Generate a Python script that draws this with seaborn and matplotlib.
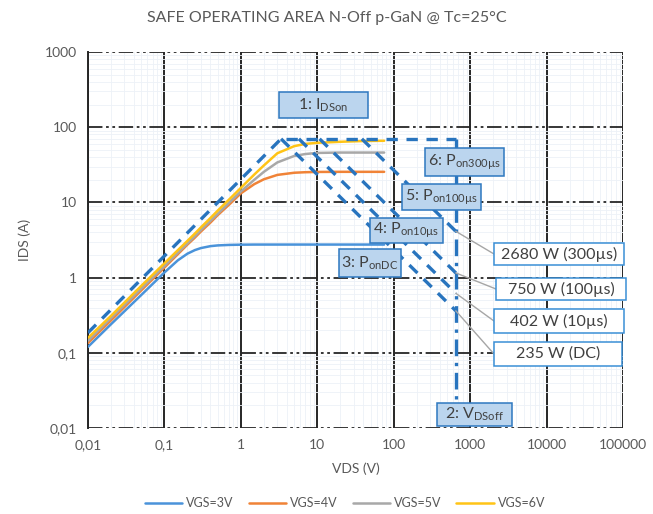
import matplotlib
matplotlib.use("Agg")
import matplotlib.pyplot as plt
from matplotlib.patches import Rectangle
import seaborn as sns
import pandas as pd

# ---------------- data ----------------
vds = [0.01, 0.02, 0.05, 0.1, 0.15, 0.2, 0.25, 0.3, 0.4, 0.5, 0.7, 1, 1.5, 2, 3, 5, 7, 10, 20, 40, 75]
ids_3v = [0.12, 0.24, 0.59, 1.17, 1.7, 2.08, 2.32, 2.47, 2.62, 2.68, 2.72, 2.74, 2.75, 2.75, 2.75, 2.75, 2.75, 2.75, 2.75, 2.75, 2.75]
ids_4v = [0.135, 0.27, 0.68, 1.36, 2.05, 2.75, 3.4, 4.1, 5.4, 6.8, 9.3, 13.2, 17.5, 20.3, 23.2, 24.8, 25.2, 25.4, 25.5, 25.5, 25.5]
ids_5v = [0.145, 0.29, 0.72, 1.43, 2.15, 2.85, 3.55, 4.3, 5.7, 7.1, 9.9, 14, 20, 25.5, 34, 41.5, 44, 45.5, 46, 46, 46]
ids_6v = [0.158, 0.31, 0.78, 1.55, 2.32, 3.08, 3.85, 4.65, 6.2, 7.8, 10.9, 15.6, 23.5, 31, 45, 56, 60, 62, 64, 65.5, 66]
series = ["VGS=3V", "VGS=4V", "VGS=5V", "VGS=6V"]
colors = ["#4A93DA", "#F08337", "#A8A8A8", "#FFC416"]

# safe operating area envelope
i_max = 70
v_off = 650
i_start = 0.185
i_end = 0.024
powers = [235, 402, 750, 2680]
power_labels = ["235 W (DC)", "402 W (10µs)", "750 W (100µs)", "2680 W (300µs)"]

xticks = [0.01, 0.1, 1, 10, 100, 1000, 10000, 100000]
xticklabels = ["0,01", "0,1", "1", "10", "100", "1000", "10000", "100000"]
yticks = [0.01, 0.1, 1, 10, 100, 1000]
yticklabels = ["0,01", "0,1", "1", "10", "100", "1000"]

# ---------------- style ----------------
sns.set_style("white")
plt.rcParams["font.family"] = ["Lato", "DejaVu Sans"]
plt.rcParams["mathtext.fontset"] = "custom"
plt.rcParams["mathtext.rm"] = "Lato"
plt.rcParams["mathtext.it"] = "Lato"
plt.rcParams["mathtext.bf"] = "Lato"

txt = "#595959"
dark = "#262626"
soa_c = "#2874BE"

W, H = 653, 514
fig = plt.figure(figsize=(W / 100, H / 100), dpi=100)
ax = fig.add_axes([88 / W, 1 - 428 / H, 535 / W, 376 / H])

rows = []
for name, vals in zip(series, [ids_3v, ids_4v, ids_5v, ids_6v]):
    for v, i in zip(vds, vals):
        rows.append({"VDS": v, "IDS": i, "VGS": name})
df = pd.DataFrame(rows)

ax.set_xscale("log")
ax.set_yscale("log")
ax.set_xlim(0.01, 100000)
ax.set_ylim(0.01, 1000)

# grid
ax.set_xticks(xticks)
ax.set_yticks(yticks)
ax.set_xticks([m * 10.0 ** e for e in range(-2, 5) for m in range(2, 10)], minor=True)
ax.set_yticks([m * 10.0 ** e for e in range(-2, 3) for m in range(2, 10)], minor=True)
ax.grid(which="minor", color="#EDF1F7", lw=0.6)
ax.xaxis.grid(True, which="major", color=dark, lw=1.4, ls="-")
ax.yaxis.grid(True, which="major", color=dark, lw=1.3, ls=(0, (8, 2, 1.5, 2, 1.5, 2)))
ax.set_axisbelow(True)
for s in ["top", "bottom", "right"]:
    ax.spines[s].set_visible(False)
ax.spines["left"].set_color(dark)
ax.spines["left"].set_linewidth(1.4)

sns.lineplot(data=df, x="VDS", y="IDS", hue="VGS", palette=colors, ax=ax,
             sort=False, estimator=None, lw=1.8, zorder=3)

# SOA envelope
dash = (0, (3.4, 2.6))
v_knee = powers[0] / i_max
ax.plot([0.01, v_knee], [i_start, i_max], color=soa_c, lw=2.4, ls=dash, zorder=4)
ax.plot([v_knee * 1.15, v_off], [i_max, i_max], color=soa_c, lw=2.4, ls=dash, zorder=4)
ax.plot([v_off, v_off], [i_max, i_end], color=soa_c, lw=2.4, ls=(0, (5, 2, 1, 2)), zorder=4)
for p in powers:
    ax.plot([p / i_max, v_off], [i_max, p / v_off], color=soa_c, lw=2.4, ls=dash, zorder=4)

ax.set_xticklabels(xticklabels)
ax.set_yticklabels(yticklabels)
ax.tick_params(axis="both", which="both", length=0, labelsize=10, labelcolor=txt, pad=8)
ax.set_xlabel("VDS (V)", fontsize=10, color=txt, labelpad=8)
ax.set_ylabel("IDS (A)", fontsize=10, color=txt, labelpad=10)

fig.text(327 / W, 1 - 18 / H, "SAFE OPERATING AREA N-Off p-GaN @ Tc=25°C",
         ha="center", va="center", fontsize=11.5, color=txt)

# annotation boxes (pixel extents)
def box(x0, x1, y0, y1, text, fc, ec):
    r = Rectangle((x0 / W, 1 - y1 / H), (x1 - x0) / W, (y1 - y0) / H,
                  transform=fig.transFigure, fc=fc, ec=ec, lw=1.1, zorder=10)
    fig.add_artist(r)
    fig.text((x0 + x1) / 2 / W, 1 - (y0 + y1) / 2 / H, text, ha="center", va="center",
             fontsize=11.5, color="#404040", zorder=11)

blue_fc, blue_ec = "#BBD5EE", "#2E78C0"
box(279, 368, 92, 118, r"1: I$_{\mathrm{DSon}}$", blue_fc, blue_ec)
box(425, 504, 148, 176, r"6: P$_{\mathrm{on300µs}}$", blue_fc, blue_ec)
box(402, 481, 184, 210, r"5: P$_{\mathrm{on100µs}}$", blue_fc, blue_ec)
box(370, 443, 218, 243, r"4: P$_{\mathrm{on10µs}}$", blue_fc, blue_ec)
box(339, 401, 249, 277, r"3: P$_{\mathrm{onDC}}$", blue_fc, blue_ec)
box(437, 512, 403, 426, r"2: V$_{\mathrm{DSoff}}$", blue_fc, blue_ec)

power_boxes = [(494, 622, 342, 366), (494, 624, 309, 333), (496, 626, 278, 300), (494, 624, 243, 265)]
for p, lab, (x0, x1, y0, y1) in zip(powers, power_labels, power_boxes):
    ax.annotate("", xy=(v_off, p / v_off), xycoords="data",
                xytext=(x0 / W, 1 - (y0 + y1) / 2 / H), textcoords="figure fraction",
                annotation_clip=False, zorder=5,
                arrowprops=dict(arrowstyle="-", color="#A6A6A6", lw=1.0,
                                shrinkA=0, shrinkB=0))
    box(x0, x1, y0, y1, lab, "white", "#3A8FD6")

# legend
handles, labs = ax.get_legend_handles_labels()
ax.legend_.remove()
fig.legend(handles, series, loc="center", bbox_to_anchor=(345 / W, 1 - 503 / H),
           ncol=4, frameon=False, fontsize=9, labelcolor=txt, handlelength=3,
           columnspacing=1.2, handletextpad=0.3)

fig.savefig("out.png", dpi=100)
